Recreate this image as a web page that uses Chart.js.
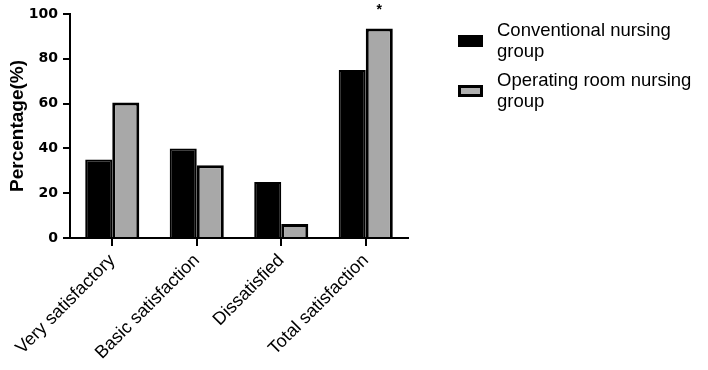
<!DOCTYPE html>
<html>
<head>
<meta charset="utf-8">
<script src="https://cdn.jsdelivr.net/npm/chart.js@4/dist/chart.umd.min.js"></script>
<style>
  html, body { margin: 0; padding: 0; background: #fff; }
  #wrap { width: 708px; height: 370px; }
</style>
</head>
<body>
<div id="wrap"><canvas id="chart1"></canvas></div>
<script>
const categories = ["Very satisfactory", "Basic satisfaction", "Dissatisfied", "Total satisfaction"];
const conventional = [35, 40, 25, 75];
const operatingRoom = [60.5, 32.5, 6.25, 93.5];
const seriesNames = [["Conventional nursing", "group"], ["Operating room nursing", "group"]];
const yTicks = [0, 20, 40, 60, 80, 100];
const markers = ["", "", "", "*"]; // significance mark above the operating room bar

const cht1 = document.getElementById("chart1");

// legend with wrapped labels + asterisk above bars
const extras = {
  id: "extras",
  afterDraw(chart) {
    const ctx = chart.ctx;
    ctx.save();
    // asterisks
    const meta = chart.getDatasetMeta(1);
    ctx.fillStyle = "#000";
    ctx.font = "bold 14px 'Liberation Sans', Arial, sans-serif";
    ctx.textAlign = "center";
    ctx.textBaseline = "middle";
    markers.forEach((m, i) => {
      if (!m) return;
      const bar = meta.data[i];
      ctx.fillText(m, bar.x, bar.y - 18);
    });
    // legend
    const tops = [23, 73];
    ctx.textAlign = "left";
    ctx.font = "18.5px 'Liberation Sans', Arial, sans-serif";
    seriesNames.forEach((lines, i) => {
      const y0 = tops[i];
      const mid = y0 + 18;
      ctx.fillStyle = "#000";
      ctx.fillRect(458, mid - 6, 25, 12);
      if (i === 1) {
        ctx.fillStyle = "#b0b0b0";
        ctx.fillRect(461, mid - 3, 19, 6);
      }
      ctx.fillStyle = "#000";
      lines.forEach((t, j) => ctx.fillText(t, 497, y0 + 8 + j * 21));
    });
    ctx.restore();
  }
};

new Chart(cht1, {
  type: "bar",
  data: {
    labels: categories,
    datasets: [
      {
        label: seriesNames[0].join(" "),
        data: conventional,
        backgroundColor: "#000000",
        borderColor: "#000000",
        borderWidth: 2,
        barPercentage: 1,
        categoryPercentage: 0.64,
      },
      {
        label: seriesNames[1].join(" "),
        data: operatingRoom,
        backgroundColor: "#a8a8a8",
        borderColor: "#000000",
        borderWidth: 3,
        barPercentage: 1,
        categoryPercentage: 0.64,
      },
    ],
  },
  options: {
    responsive: true,
    maintainAspectRatio: false,
    animation: false,
    layout: { padding: { top: 14, right: 300, left: 0, bottom: 0 } },
    plugins: {
      legend: { display: false },
      tooltip: { enabled: false },
    },
    scales: {
      x: {
        border: { display: true, color: "#000", width: 2 },
        grid: { offset: false, drawOnChartArea: false, drawTicks: true, tickLength: 8, color: "#000", lineWidth: 2 },
        ticks: {
          color: "#000",
          minRotation: 45,
          maxRotation: 45,
          padding: 4,
          font: { family: "'Liberation Sans', Arial, sans-serif", size: 18 },
        },
        afterFit: (s) => { s.height = 132; },
      },
      y: {
        min: 0,
        max: 100,
        afterBuildTicks: (s) => { s.ticks = yTicks.map((v) => ({ value: v })); },
        border: { display: true, color: "#000", width: 2 },
        grid: { drawOnChartArea: false, drawTicks: true, tickLength: 7, color: "#000", lineWidth: 2 },
        ticks: {
          color: "#000",
          padding: 5,
          font: { family: "'DejaVu Sans', sans-serif", size: 14, weight: "bold" },
        },
        title: {
          display: true,
          text: "Percentage(%)",
          color: "#000",
          padding: { top: 6, bottom: 0 },
          font: { family: "'Liberation Sans', Arial, sans-serif", size: 19, weight: "bold" },
        },
        afterFit: (s) => { s.width = 70; },
      },
    },
  },
  plugins: [extras],
});
</script>
</body>
</html>
